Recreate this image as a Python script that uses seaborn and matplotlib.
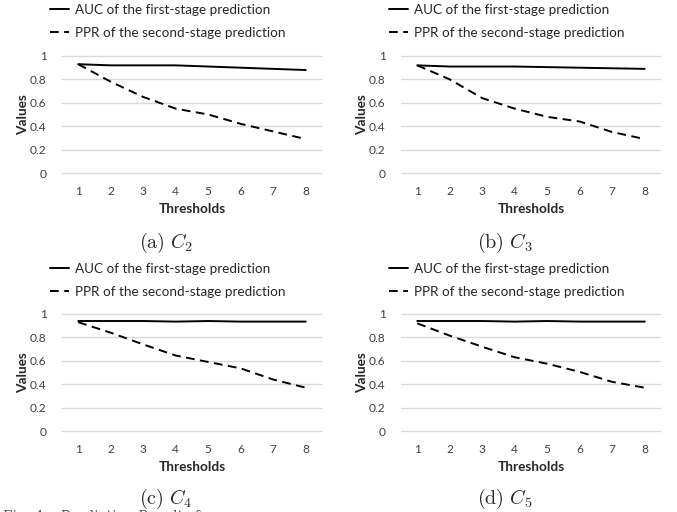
import matplotlib
matplotlib.use("Agg")
import matplotlib.pyplot as plt
import seaborn as sns
import pandas as pd

# values
thresholds = [1, 2, 3, 4, 5, 6, 7, 8]
auc_c2 = [0.93, 0.92, 0.92, 0.92, 0.91, 0.90, 0.89, 0.88]
ppr_c2 = [0.93, 0.78, 0.65, 0.55, 0.50, 0.42, 0.355, 0.29]
auc_c3 = [0.92, 0.91, 0.91, 0.91, 0.905, 0.90, 0.895, 0.89]
ppr_c3 = [0.92, 0.80, 0.64, 0.55, 0.48, 0.44, 0.35, 0.29]
auc_c4 = [0.94, 0.94, 0.94, 0.935, 0.94, 0.935, 0.935, 0.935]
ppr_c4 = [0.93, 0.84, 0.74, 0.645, 0.59, 0.535, 0.44, 0.37]
auc_c5 = [0.94, 0.94, 0.94, 0.935, 0.94, 0.935, 0.935, 0.935]
ppr_c5 = [0.92, 0.815, 0.72, 0.63, 0.575, 0.505, 0.42, 0.37]

series_names = ["AUC of the first-stage prediction", "PPR of the second-stage prediction"]
captions = [r"$\mathrm{(a)}\ C_2$", r"$\mathrm{(b)}\ C_3$", r"$\mathrm{(c)}\ C_4$", r"$\mathrm{(d)}\ C_5$"]
yticks = [0, 0.2, 0.4, 0.6, 0.8, 1]
ytick_labels = ["0", "0.2", "0.4", "0.6", "0.8", "1"]

sns.set_theme(style="white")
plt.rcParams['font.family'] = ['Lato', 'DejaVu Sans']
plt.rcParams['mathtext.fontset'] = 'cm'

W, H = 677, 512
fig = plt.figure(figsize=(W / 100, H / 100), dpi=100)

# panel boxes in pixels: left, right, pixel of y=1, pixel of y=0, vertical offset, legend top
boxes = [(62, 322, 56, 173, 0, 4), (401, 661, 56, 173, 0, 4),
         (62, 322, 58, 175, 256, 7), (401, 661, 58, 175, 256, 7)]
data = [(auc_c2, ppr_c2), (auc_c3, ppr_c3), (auc_c4, ppr_c4), (auc_c5, ppr_c5)]
pad = 0.03

for i, ((x0, x1, yt, yb, off, lt), (auc, ppr)) in enumerate(zip(boxes, data)):
    yt += off
    yb += off
    span = yb - yt
    top = yt - pad * span
    bot = yb + pad * span
    ax = fig.add_axes([x0 / W, 1 - bot / H, (x1 - x0) / W, (bot - top) / H])

    df = pd.DataFrame({
        "threshold": thresholds * 2,
        "value": auc + ppr,
        "series": [series_names[0]] * 8 + [series_names[1]] * 8,
    })
    sns.lineplot(data=df, x="threshold", y="value", style="series",
                 dashes={series_names[0]: "", series_names[1]: (4.5, 2.8)},
                 color="black", lw=1.4, legend=False, ax=ax)

    ax.set_xlim(0.5, 8.5)
    ax.set_ylim(-pad, 1 + pad)
    ax.set_xticks(thresholds)
    ax.set_yticks(yticks)
    ax.set_yticklabels(ytick_labels)
    for s in ax.spines.values():
        s.set_visible(False)
    ax.yaxis.grid(True, color="#d9d9d9", lw=1)
    ax.xaxis.grid(False)
    ax.set_axisbelow(True)
    ax.tick_params(length=0, labelsize=8.6, colors="#404040")
    ax.tick_params(axis="y", pad=11)
    ax.tick_params(axis="x", pad=7)
    ax.set_xlabel("Thresholds", fontsize=9.8, fontweight="bold", labelpad=4)
    ax.set_ylabel("Values", fontsize=9.8, fontweight="bold", labelpad=1)

    leg_x = (x0 - 12) / W
    leg_y = 1 - (off + lt) / H
    ax.legend(handles=ax.lines[:2], labels=series_names, loc="upper left",
              bbox_to_anchor=(leg_x, leg_y), bbox_transform=fig.transFigure,
              frameon=False, fontsize=9.7, handlelength=1.4, handletextpad=0.45,
              labelspacing=0.8, borderpad=0, borderaxespad=0)

    cx = (x0 + x1) / 2 - 26
    cy = off + (243 if off == 0 else 243)
    fig.text(cx / W, 1 - cy / H, captions[i], fontsize=14.5, ha="center", va="center")

fig.text(3 / W, 1 - 510 / H, "Fig. 4.   Prediction Results for", fontsize=10,
         family="DejaVu Serif", color="#555555", ha="left", va="top")

fig.savefig("out.png", dpi=100)
